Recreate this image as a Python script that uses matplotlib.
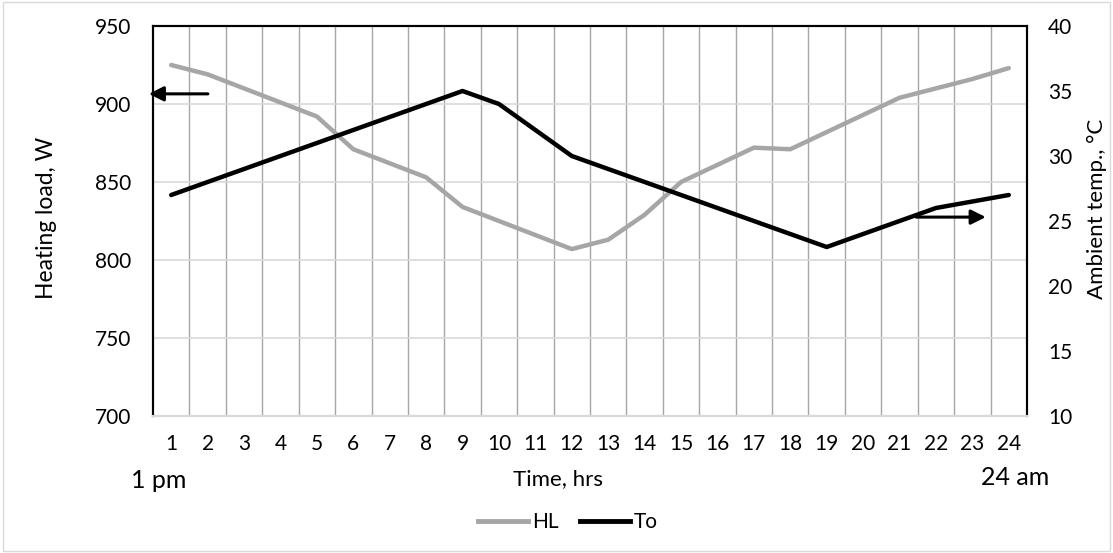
import matplotlib
matplotlib.use("Agg")
import matplotlib.pyplot as plt
from matplotlib.lines import Line2D
from matplotlib.patches import Rectangle

plt.rcParams['font.family'] = ['Lato', 'DejaVu Sans']

hours = list(range(1, 25))
hl = [925, 919, 910, 901, 892, 871, 862, 853, 834, 825, 816, 807,
      813, 829, 850, 861, 872, 871, 882, 893, 904, 910, 916, 923]
to = [27, 28, 29, 30, 31, 32, 33, 34, 35, 34, 32, 30,
      29, 28, 27, 26, 25, 24, 23, 24, 25, 26, 26.5, 27]
left_ticks = [700, 750, 800, 850, 900, 950]
right_ticks = [10, 15, 20, 25, 30, 35, 40]

W, H = 1113, 553
fig = plt.figure(figsize=(W / 100, H / 100), dpi=100)
fig.patches.append(Rectangle((0.003, 0.003), 0.994, 0.994, transform=fig.transFigure,
                             fill=False, edgecolor='#d9d9d9', linewidth=1))
ax = fig.add_axes([153 / W, 1 - 416 / H, 874 / W, 390 / H])
ax2 = ax.twinx()

ax.set_xlim(0.5, 24.5)
ax.set_ylim(700, 950)
ax2.set_ylim(10, 40)
ax.set_yticks(left_ticks)
ax2.set_yticks(right_ticks)
ax.set_xticks(hours)
ax.set_xticks([h + 0.5 for h in hours[:-1]], minor=True)

ax.grid(axis='y', which='major', color='#d9d9d9', linewidth=1.2)
ax.grid(axis='x', which='minor', color='#a6a6a6', linewidth=1)
ax.grid(axis='x', which='major', visible=False)
ax.set_axisbelow(True)

ax.plot(hours, hl, color='#a6a6a6', linewidth=3.2, solid_capstyle='round', zorder=3)
ax2.plot(hours, to, color='black', linewidth=3.2, solid_capstyle='round', zorder=3)

for a in (ax, ax2):
    a.tick_params(which='both', length=0, labelsize=15)
    for s in ('left', 'right', 'top'):
        a.spines[s].set_color('black')
        a.spines[s].set_linewidth(1.5)
    a.spines['bottom'].set_color('#d9d9d9')
    a.spines['bottom'].set_linewidth(1.5)
ax.tick_params(axis='x', pad=13)
ax.tick_params(axis='y', pad=16)
ax2.tick_params(axis='y', pad=15)

fig.text(47 / W, 1 - 218 / H, 'Heating load, W', fontsize=16.4, rotation=90,
         ha='center', va='center')
fig.text(1097 / W, 1 - 209 / H, 'Ambient temp., °C', fontsize=16, rotation=90,
         ha='center', va='center')
fig.text(558 / W, 1 - 479 / H, 'Time, hrs', fontsize=16, ha='center', va='center')

fig.text(159 / W, 1 - 488 / H, '1 pm', fontsize=18, ha='center', va='baseline')
fig.text(1015 / W, 1 - 485 / H, '24 am', fontsize=18, ha='center', va='baseline')

ax.annotate('', xy=(-0.008, 0.826), xytext=(0.066, 0.826), xycoords='axes fraction',
            arrowprops=dict(arrowstyle='-|>', color='black', lw=2.2, mutation_scale=22))
ax.annotate('', xy=(0.956, 0.51), xytext=(0.87, 0.51), xycoords='axes fraction',
            arrowprops=dict(arrowstyle='-|>', color='black', lw=2.2, mutation_scale=22))

handles = [Line2D([], [], color='#a6a6a6', linewidth=3.5),
           Line2D([], [], color='black', linewidth=3.5)]
fig.legend(handles, ['HL', 'To'], loc='center', bbox_to_anchor=(568 / W, 1 - 522 / H),
           ncol=2, frameon=False, fontsize=15, handlelength=2.4, handletextpad=0.2,
           columnspacing=1.0)

fig.savefig('out.png', dpi=100)
